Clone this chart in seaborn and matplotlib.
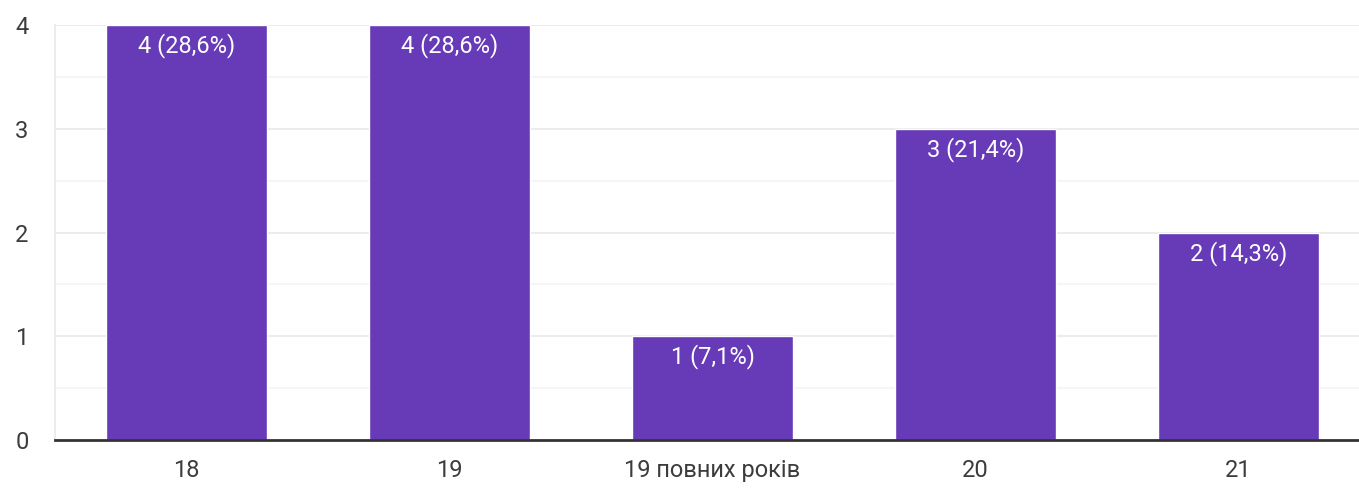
import matplotlib
matplotlib.use("Agg")
import matplotlib.pyplot as plt
import seaborn as sns
import pandas as pd
from matplotlib.ticker import MultipleLocator

ages = ["18", "19", "19 повних років", "20", "21"]
counts = [4, 4, 1, 3, 2]

total = sum(counts)
labels = [f"{c} ({c / total * 100:.1f}%)".replace(".", ",") for c in counts]
df = pd.DataFrame({"age": ages, "count": counts})

sns.set_style("white")
plt.rcParams["font.family"] = ["Roboto", "DejaVu Sans"]

fig = plt.figure(figsize=(13.59, 4.88), dpi=100)
ax = fig.add_axes([55 / 1359, 48 / 488, 1304 / 1359, 415 / 488])

sns.barplot(data=df, x="age", y="count", color="#673ab7", width=0.61,
            saturation=1, ax=ax, zorder=3)

for p, lab in zip(ax.patches, labels):
    ax.text(p.get_x() + p.get_width() / 2, p.get_height() - 0.08, lab,
            ha="center", va="top", color="white", fontsize=17, zorder=4)

ax.set_xlim(-0.5, 4.458)
ax.set_ylim(0, 4)
ax.yaxis.set_major_locator(MultipleLocator(1))
ax.yaxis.set_minor_locator(MultipleLocator(0.5))
ax.grid(axis="y", which="major", color="#ebebeb", lw=1.3, zorder=0)
ax.grid(axis="y", which="minor", color="#f5f5f5", lw=1.3, zorder=0)
ax.set_axisbelow(True)

for s in ["top", "right"]:
    ax.spines[s].set_visible(False)
ax.spines["left"].set_color("#ebebeb")
ax.spines["left"].set_linewidth(1.3)
ax.spines["bottom"].set_color("#333333")
ax.spines["bottom"].set_linewidth(2)
ax.spines["bottom"].set_zorder(5)

ax.tick_params(axis="both", which="both", length=0, labelsize=17, colors="#3c3c3c")
ax.tick_params(axis="y", pad=19)
ax.tick_params(axis="x", pad=14)
ax.set_xlabel("")
ax.set_ylabel("")

fig.savefig("out.png", dpi=100)
